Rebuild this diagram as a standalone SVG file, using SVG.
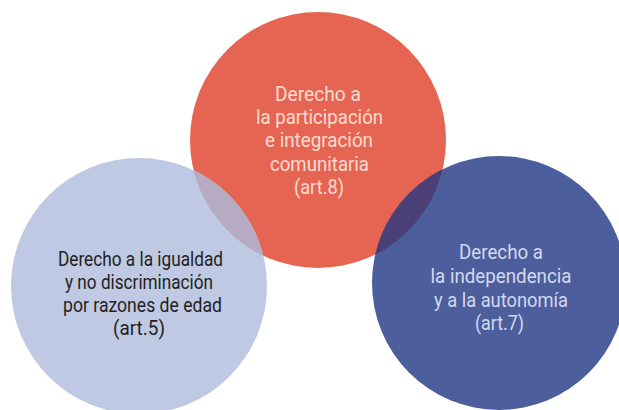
<svg xmlns="http://www.w3.org/2000/svg" width="619" height="410" viewBox="0 0 619 410">
<style>
  text { font-family: Roboto, "Liberation Sans", sans-serif; font-size: 21px; text-anchor: middle; }
  .tr { fill: #fbdcd2; }
  .tl { fill: #231f20; }
  .tb { fill: #d3d9ef; }
</style>
<defs>
  <clipPath id="clipRed"><circle cx="318" cy="140" r="128"/></clipPath>
</defs>
<rect width="619" height="410" fill="#ffffff"/>
<g id="node-participacion">
  <circle cx="318" cy="140" r="128" fill="#e66552"/>
</g>
<g id="node-igualdad">
  <circle cx="139" cy="286" r="128" fill="#bfc9e4"/>
</g>
<g id="node-independencia">
  <circle cx="499" cy="283" r="127" fill="#4c5e9b"/>
</g>
<g id="overlaps" clip-path="url(#clipRed)">
  <circle cx="139" cy="286" r="128" fill="#b6abc3"/>
  <circle cx="499" cy="283" r="127" fill="#4a4077"/>
</g>
<g id="labels-participacion">
  <text class="tr" x="318" y="101" textLength="86" lengthAdjust="spacingAndGlyphs">Derecho a</text>
  <text class="tr" x="319.5" y="124" textLength="127" lengthAdjust="spacingAndGlyphs">la participación</text>
  <text class="tr" x="319" y="147" textLength="108" lengthAdjust="spacingAndGlyphs">e integración</text>
  <text class="tr" x="319.5" y="171" textLength="99" lengthAdjust="spacingAndGlyphs">comunitaria</text>
  <text class="tr" x="319" y="194" textLength="50" lengthAdjust="spacingAndGlyphs">(art.8)</text>
</g>
<g id="labels-igualdad">
  <text class="tl" x="140.5" y="266" textLength="165" lengthAdjust="spacingAndGlyphs">Derecho a la igualdad</text>
  <text class="tl" x="139" y="289" textLength="148" lengthAdjust="spacingAndGlyphs">y no discriminación</text>
  <text class="tl" x="142.5" y="312" textLength="159" lengthAdjust="spacingAndGlyphs">por razones de edad</text>
  <text class="tl" x="139" y="335" textLength="52" lengthAdjust="spacingAndGlyphs">(art.5)</text>
</g>
<g id="labels-independencia">
  <text class="tb" x="501" y="259" textLength="84" lengthAdjust="spacingAndGlyphs">Derecho a</text>
  <text class="tb" x="501" y="283" textLength="141" lengthAdjust="spacingAndGlyphs">la independencia</text>
  <text class="tb" x="501" y="307" textLength="134" lengthAdjust="spacingAndGlyphs">y a la autonomía</text>
  <text class="tb" x="499.5" y="330" textLength="49" lengthAdjust="spacingAndGlyphs">(art.7)</text>
</g>
</svg>
